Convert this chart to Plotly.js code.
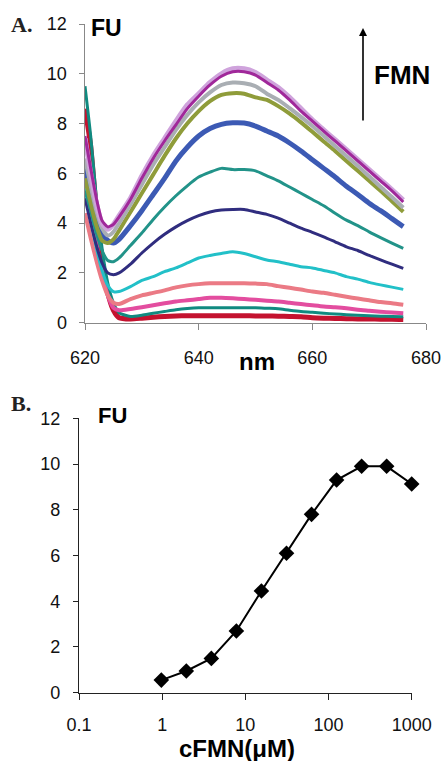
<!DOCTYPE html>
<html>
<head>
<meta charset="utf-8">
<script src="https://cdn.plot.ly/plotly-3.0.1.min.js"></script>
<style>html,body{margin:0;padding:0;background:#fff;}#chart{width:445px;height:761px;}</style>
</head>
<body>
<div id="chart"></div>
<script>
// ---- Panel A: emission spectra (wavelength, nm) ----
const wavelength = [620,621,622,623,624,625,626,628,630,632,634,636,638,640,642,644,646,648,650,652,654,656,658,660,662,664,666,668,670,672,674,676];

const specLavender = [7.4,6.0,4.8,4.0,3.75,3.95,4.3,5.0,5.9,6.7,7.4,8.1,8.75,9.2,9.65,10.0,10.2,10.2,10.05,9.75,9.45,9.05,8.6,8.15,7.75,7.35,6.95,6.55,6.15,5.75,5.35,4.93];
const specMagenta  = [7.5,6.2,5.0,4.1,3.85,3.95,4.25,4.95,5.8,6.6,7.3,7.95,8.6,9.1,9.55,9.9,10.08,10.08,9.95,9.65,9.35,8.95,8.5,8.1,7.7,7.3,6.9,6.5,6.1,5.7,5.3,4.85];
const specGray     = [6.6,5.5,4.5,3.8,3.5,3.65,4.0,4.75,5.55,6.35,7.05,7.75,8.35,8.85,9.25,9.55,9.65,9.62,9.5,9.2,8.95,8.62,8.27,7.9,7.5,7.1,6.7,6.3,5.88,5.46,5.05,4.62];
const specOlive    = [5.8,4.8,3.9,3.3,3.2,3.35,3.7,4.45,5.2,5.95,6.7,7.4,8.0,8.5,8.9,9.15,9.22,9.2,9.05,8.95,8.7,8.4,8.05,7.67,7.28,6.9,6.5,6.1,5.7,5.3,4.88,4.46];
const specBlue     = [6.2,5.2,4.3,3.6,3.3,3.2,3.35,3.9,4.5,5.15,5.8,6.5,7.05,7.5,7.8,7.97,8.03,8.02,7.9,7.7,7.5,7.22,6.9,6.55,6.2,5.85,5.48,5.15,4.8,4.5,4.18,3.86];
const specTeal     = [5.3,4.5,3.6,2.9,2.5,2.45,2.6,3.1,3.6,4.15,4.65,5.1,5.5,5.85,6.05,6.2,6.15,6.15,6.1,5.9,5.7,5.45,5.2,4.95,4.7,4.4,4.12,3.9,3.65,3.42,3.2,2.99];
const specNavy     = [5.0,4.0,3.1,2.4,2.0,1.93,2.0,2.35,2.8,3.2,3.55,3.85,4.1,4.3,4.45,4.53,4.55,4.55,4.45,4.35,4.2,4.0,3.8,3.63,3.45,3.25,3.05,2.9,2.7,2.52,2.35,2.18];
const specCyan     = [5.4,4.2,3.0,2.1,1.5,1.25,1.25,1.45,1.7,1.85,2.05,2.2,2.4,2.6,2.7,2.78,2.85,2.78,2.65,2.52,2.45,2.35,2.25,2.2,2.1,2.0,1.85,1.75,1.62,1.52,1.43,1.34];
const specSalmon   = [4.4,3.4,2.5,1.7,1.1,0.8,0.75,0.95,1.1,1.2,1.3,1.42,1.5,1.55,1.58,1.58,1.58,1.58,1.57,1.55,1.47,1.4,1.33,1.25,1.2,1.12,1.04,0.97,0.9,0.83,0.78,0.72];
const specPink     = [6.0,4.6,3.2,2.0,1.1,0.6,0.5,0.55,0.62,0.7,0.78,0.85,0.9,0.95,1.0,1.0,0.98,0.95,0.92,0.88,0.85,0.8,0.75,0.7,0.65,0.62,0.58,0.52,0.48,0.44,0.41,0.38];
const specDarkTeal = [9.5,7.5,5.0,3.0,1.6,0.8,0.4,0.25,0.3,0.38,0.45,0.52,0.57,0.6,0.6,0.6,0.6,0.6,0.6,0.58,0.56,0.5,0.45,0.42,0.38,0.35,0.32,0.3,0.28,0.26,0.25,0.24];
const specRed      = [8.6,7.1,4.5,2.5,1.2,0.5,0.2,0.15,0.18,0.22,0.25,0.27,0.28,0.28,0.28,0.28,0.28,0.28,0.27,0.27,0.26,0.25,0.24,0.2,0.18,0.17,0.16,0.15,0.15,0.14,0.14,0.13];

// ---- Panel B: titration ----
const cFMN = [0.977,1.95,3.9,7.8,15.6,31.25,62.5,125,250,500,1000];
const fuB  = [0.55,0.95,1.5,2.7,4.45,6.1,7.8,9.3,9.9,9.9,9.13];

const yTicks = [0,2,4,6,8,10,12];
const xTicksA = [620,640,660,680];
const xTicksB = [0.1,1,10,100,1000];
const xTickTextB = ['0.1','1','10','100','1000'];

const series = [
  [specRed,'#C4122F',5],
  [specDarkTeal,'#108A80',3],
  [specPink,'#E34D9F',4],
  [specSalmon,'#EB7A85',4],
  [specCyan,'#22C0C8',3],
  [specNavy,'#302D7F',3],
  [specTeal,'#229389',3],
  [specBlue,'#3C5AB4',5],
  [specOlive,'#8F9C3A',4],
  [specGray,'#A9AEB3',4],
  [specLavender,'#CFA3DC',5],
  [specMagenta,'#A0289A',3]
];

const traces = series.map(s => ({
  x: wavelength, y: s[0], type:'scatter', mode:'lines',
  line:{color:s[1], width:s[2], shape:'spline', smoothing:0.6},
  xaxis:'x', yaxis:'y', hoverinfo:'skip', showlegend:false
}));

traces.push({
  x: cFMN, y: fuB, type:'scatter', mode:'lines+markers', cliponaxis:false,
  line:{color:'#000', width:2},
  marker:{symbol:'diamond', size:12, color:'#000'},
  xaxis:'x2', yaxis:'y2', showlegend:false
});

const W = 445, H = 761;
const fx = p => p / W;
const fy = p => (H - p) / H;
const tickFont = {family:'Liberation Sans, Arial, sans-serif', size:18, color:'#111'};

const layout = {
  width: W, height: H,
  margin:{l:0, r:0, t:0, b:0},
  paper_bgcolor:'#fff', plot_bgcolor:'#fff',
  showlegend:false,
  xaxis:{
    domain:[fx(85), fx(426)], range:[620,680], tickvals:xTicksA,
    showline:true, linecolor:'#888', linewidth:1.5, ticks:'outside', ticklen:6, tickcolor:'#888',
    showgrid:false, zeroline:false, tickfont:tickFont, ticklabelstandoff:12, anchor:'y'
  },
  yaxis:{
    domain:[fy(322.7), fy(24)], range:[0,12], tickvals:yTicks,
    showline:true, linecolor:'#888', linewidth:1.5, ticks:'outside', ticklen:5, tickcolor:'#888',
    showgrid:false, zeroline:false, tickfont:tickFont, ticklabelstandoff:8, anchor:'x'
  },
  xaxis2:{
    type:'log', domain:[fx(79), fx(411.7)], range:[-1,3], tickvals:xTicksB, ticktext:xTickTextB,
    showline:true, linecolor:'#222', linewidth:1.2, ticks:'outside', ticklen:6, tickcolor:'#222',
    showgrid:false, zeroline:false, tickfont:tickFont, ticklabelstandoff:9, anchor:'y2'
  },
  yaxis2:{
    domain:[fy(692.7), fy(418.3)], range:[0,12], tickvals:yTicks,
    showline:true, linecolor:'#222', linewidth:1.2, ticks:'outside', ticklen:5, tickcolor:'#222',
    showgrid:false, zeroline:false, tickfont:tickFont, ticklabelstandoff:9, anchor:'x2'
  },
  annotations:[
    {text:'<b>A.</b>', xref:'paper', yref:'paper', x:fx(9), y:fy(25), xanchor:'left', yanchor:'middle', showarrow:false,
     font:{family:'Liberation Serif, Times New Roman, serif', size:22, color:'#222'}},
    {text:'<b>B.</b>', xref:'paper', yref:'paper', x:fx(9), y:fy(403), xanchor:'left', yanchor:'middle', showarrow:false,
     font:{family:'Liberation Serif, Times New Roman, serif', size:22, color:'#222'}},
    {text:'<b>FU</b>', xref:'paper', yref:'paper', x:fx(89), y:fy(28), xanchor:'left', yanchor:'middle', showarrow:false,
     font:{family:'Liberation Sans, Arial, sans-serif', size:23, color:'#000'}},
    {text:'<b>FU</b>', xref:'paper', yref:'paper', x:fx(96), y:fy(415), xanchor:'left', yanchor:'middle', showarrow:false,
     font:{family:'Liberation Sans, Arial, sans-serif', size:22, color:'#000'}},
    {text:'<b>FMN</b>', xref:'paper', yref:'paper', x:fx(372), y:fy(75), xanchor:'left', yanchor:'middle', showarrow:false,
     font:{family:'Liberation Sans, Arial, sans-serif', size:26, color:'#000'}},
    {text:'', xref:'paper', yref:'paper', x:fx(363), y:fy(28), ax:0, ay:94, showarrow:true,
     arrowhead:2, arrowsize:1, arrowwidth:1.6, arrowcolor:'#000'},
    {text:'<b>nm</b>', xref:'paper', yref:'paper', x:fx(257), y:fy(361), xanchor:'center', yanchor:'middle', showarrow:false,
     font:{family:'Liberation Sans, Arial, sans-serif', size:24, color:'#000'}},
    {text:'<b>cFMN(μM)</b>', xref:'paper', yref:'paper', x:fx(237), y:fy(748), xanchor:'center', yanchor:'middle', showarrow:false,
     font:{family:'Liberation Sans, Arial, sans-serif', size:24, color:'#000'}}
  ]
};

Plotly.newPlot('chart', traces, layout, {staticPlot:true, displayModeBar:false});
</script>
</body>
</html>
